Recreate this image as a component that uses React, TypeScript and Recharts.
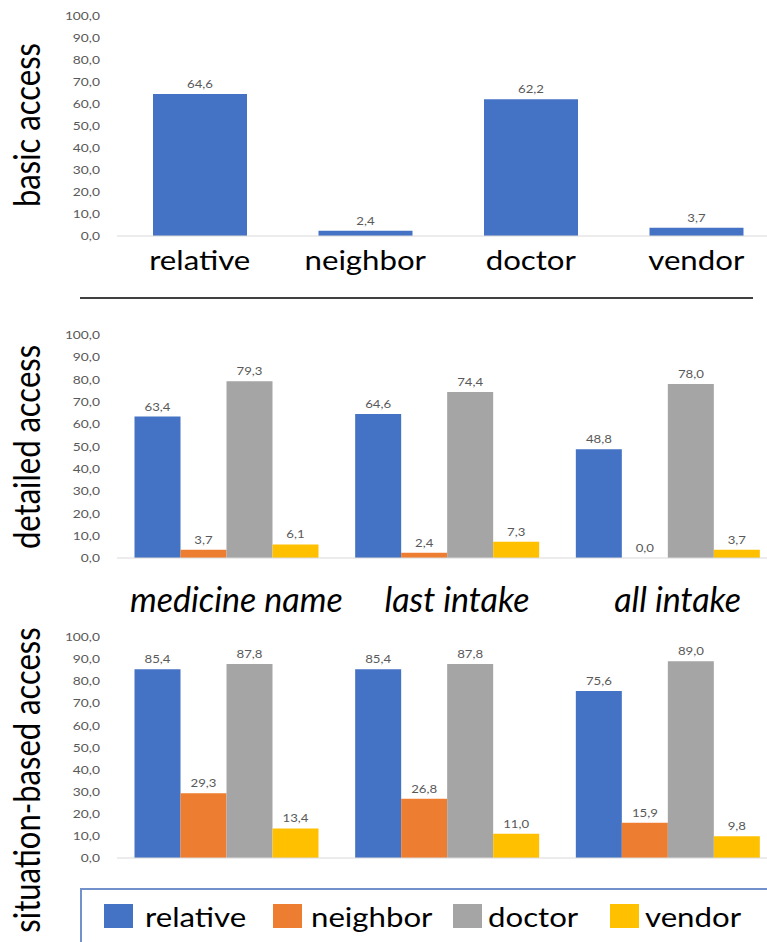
import React from 'react';
import { BarChart, Bar, XAxis, YAxis, LabelList } from 'recharts';

const roles = ['relative', 'neighbor', 'doctor', 'vendor'];
const roleColors = ['#4472C4', '#ED7D31', '#A5A5A5', '#FFC000'];

const basicValues = [64.6, 2.4, 62.2, 3.7];

const infoTypes = ['medicine name', 'last intake', 'all intake'];
const detailedRelative = [63.4, 64.6, 48.8];
const detailedNeighbor = [3.7, 2.4, 0.0];
const detailedDoctor = [79.3, 74.4, 78.0];
const detailedVendor = [6.1, 7.3, 3.7];

const situationRelative = [85.4, 85.4, 75.6];
const situationNeighbor = [29.3, 26.8, 15.9];
const situationDoctor = [87.8, 87.8, 89.0];
const situationVendor = [13.4, 11.0, 9.8];

const yTicks = [0, 10, 20, 30, 40, 50, 60, 70, 80, 90, 100];
const panelLabels = ['basic access', 'detailed access', 'situation-based access'];

const FONT = 'Lato, "Open Sans", sans-serif';
const SX = 1.2; // horizontal text stretch seen in the reference
const fmt = (v: any) => Number(v).toFixed(1).replace('.', ',');

const basicData = roles.map((r, i) => ({ name: r, value: basicValues[i] }));
const buildGrouped = (a: number[], b: number[], c: number[], d: number[]) =>
  infoTypes.map((t, i) => ({ name: t, relative: a[i], neighbor: b[i], doctor: c[i], vendor: d[i] }));
const detailedData = buildGrouped(detailedRelative, detailedNeighbor, detailedDoctor, detailedVendor);
const situationData = buildGrouped(situationRelative, situationNeighbor, situationDoctor, situationVendor);

const CHART_W = 790;
const YAXIS_W = 117;

const YTick = (props: any) => {
  const { x, y, payload } = props;
  return (
    <text
      transform={`translate(${x},${y}) scale(${SX},1)`}
      textAnchor="end"
      dy="0.36em"
      fontSize={11.5}
      fill="#595959"
      fontFamily={FONT}
    >
      {fmt(payload.value)}
    </text>
  );
};

const BasicTick = (props: any) => {
  const { x, y, payload } = props;
  return (
    <text
      transform={`translate(${x},${y + 34}) scale(${SX},1)`}
      textAnchor="middle"
      fontSize={26}
      fill="#000"
      fontFamily={FONT}
    >
      {payload.value}
    </text>
  );
};

const InfoTick = (props: any) => {
  const { x, y, payload } = props;
  return (
    <text
      x={x + 9}
      y={y + 54}
      textAnchor="middle"
      fontSize={34}
      fontStyle="italic"
      fill="#000"
      fontFamily={FONT}
    >
      {payload.value}
    </text>
  );
};

const ValueLabel = (props: any) => {
  const { x, y, width, value } = props;
  const cx = Number(x) + Number(width) / 2;
  const ty = Number(y) - 6;
  return (
    <text
      transform={`translate(${cx},${ty}) scale(${SX},1)`}
      textAnchor="middle"
      fontSize={11}
      fill="#595959"
      fontFamily={FONT}
    >
      {fmt(value)}
    </text>
  );
};

const yAxisEl = (
  <YAxis
    type="number"
    domain={[0, 100]}
    ticks={yTicks}
    width={YAXIS_W}
    axisLine={false}
    tickLine={false}
    tickSize={0}
    tickMargin={17}
    tick={YTick}
    interval={0}
  />
);

const legendSquareX = [104, 273, 453, 610];
const legendTextX = [145, 311, 488, 645];

export default function App() {
  return (
    <div
      style={{
        position: 'absolute',
        left: 0,
        top: 0,
        width: 767,
        height: 942,
        overflow: 'hidden',
        background: '#fff',
        fontFamily: FONT,
      }}
    >
      <div style={{ position: 'absolute', left: 0, top: 0 }}>
        <BarChart
          width={CHART_W}
          height={300}
          data={basicData}
          margin={{ top: 16, right: 11, left: 0, bottom: 0 }}
          barCategoryGap={36}
        >
          <XAxis
            dataKey="name"
            height={64}
            axisLine={{ stroke: '#D9D9D9', strokeWidth: 1 }}
            tickLine={false}
            tickSize={0}
            tickMargin={0}
            interval={0}
            tick={BasicTick}
          />
          {yAxisEl}
          <Bar dataKey="value" fill={roleColors[0]} minPointSize={0.01} isAnimationActive={false}>
            <LabelList dataKey="value" content={ValueLabel} />
          </Bar>
        </BarChart>
      </div>

      <div style={{ position: 'absolute', left: 0, top: 300 }}>
        <BarChart
          width={CHART_W}
          height={320}
          data={detailedData}
          margin={{ top: 35, right: 11, left: 0, bottom: 0 }}
          barCategoryGap={17.5}
          barGap={0}
        >
          <XAxis
            dataKey="name"
            height={62}
            axisLine={{ stroke: '#D9D9D9', strokeWidth: 1 }}
            tickLine={false}
            tickSize={0}
            tickMargin={0}
            interval={0}
            tick={InfoTick}
          />
          {yAxisEl}
          {roles.map((r, i) => (
            <Bar key={r} dataKey={r} fill={roleColors[i]} minPointSize={0.01} isAnimationActive={false}>
              <LabelList dataKey={r} content={ValueLabel} />
            </Bar>
          ))}
        </BarChart>
      </div>

      <div style={{ position: 'absolute', left: 0, top: 620 }}>
        <BarChart
          width={CHART_W}
          height={280}
          data={situationData}
          margin={{ top: 17, right: 11, left: 0, bottom: 0 }}
          barCategoryGap={17.5}
          barGap={0}
        >
          <XAxis
            dataKey="name"
            height={42}
            axisLine={{ stroke: '#D9D9D9', strokeWidth: 1 }}
            tickLine={false}
            tick={false}
          />
          {yAxisEl}
          {roles.map((r, i) => (
            <Bar key={r} dataKey={r} fill={roleColors[i]} minPointSize={0.01} isAnimationActive={false}>
              <LabelList dataKey={r} content={ValueLabel} />
            </Bar>
          ))}
        </BarChart>
      </div>

      <svg
        width={767}
        height={942}
        style={{ position: 'absolute', left: 0, top: 0, pointerEvents: 'none' }}
      >
        <line x1={80} x2={753} y1={298} y2={298} stroke="#000" strokeWidth={1.5} />
        <text transform={`translate(40,125) scale(${SX},1) rotate(-90)`} textAnchor="middle" fontSize={31} fontFamily={FONT} fill="#000">
          {panelLabels[0]}
        </text>
        <text transform={`translate(40,447) scale(${SX},1) rotate(-90)`} textAnchor="middle" fontSize={31} fontFamily={FONT} fill="#000">
          {panelLabels[1]}
        </text>
        <text transform={`translate(40,780) scale(${SX},1) rotate(-90)`} textAnchor="middle" fontSize={31} fontFamily={FONT} fill="#000">
          {panelLabels[2]}
        </text>

        <path d="M 81 942 L 81 889 L 767 889" fill="none" stroke="#7291CC" strokeWidth={2} />
        {roles.map((r, i) => (
          <g key={r}>
            <rect x={legendSquareX[i]} y={904} width={29} height={24} fill={roleColors[i]} />
            <text
              transform={`translate(${legendTextX[i]},927) scale(${SX},1)`}
              fontSize={26}
              fontFamily={FONT}
              fill="#000"
            >
              {r}
            </text>
          </g>
        ))}
      </svg>
    </div>
  );
}
